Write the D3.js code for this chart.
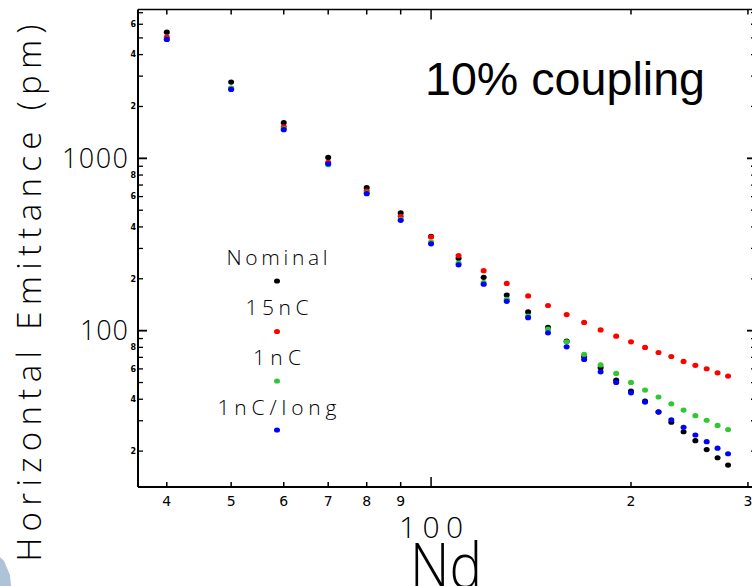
<!DOCTYPE html>
<html>
<head>
<meta charset="utf-8">
<script src="https://cdn.jsdelivr.net/npm/d3@7"></script>
<style>
  html, body { margin: 0; padding: 0; background: #fff; overflow: hidden; }
  svg { display: block; }
  .thin { font-family: "Open Sans", "Lato", "DejaVu Sans", sans-serif; font-weight: 300; }
</style>
</head>
<body>
<svg id="chart" width="752" height="586"></svg>
<script>
// Number of dipoles scanned
const nd = [40, 50, 60, 70, 80, 90, 100, 110, 120, 130, 140, 150, 160, 170, 180,
            190, 200, 210, 220, 230, 240, 250, 260, 270, 280];

// Horizontal emittance (pm) for each configuration
const nominal = [5400, 2770, 1610, 1013, 676, 482, 353, 263, 204, 161, 128.5, 104.4, 86.9,
                 70.7, 61.0, 51.6, 44.6, 39.0, 33.7, 29.4, 25.9, 23.0, 20.4, 18.3, 16.6];
const q15nC   = [5050, 2546, 1523, 948, 646, 461, 350, 273, 223, 188, 159, 140, 124,
                 111.6, 101, 92.9, 86.1, 79.9, 74.7, 70.8, 66.3, 62.9, 60.1, 56.9, 54.5];
const q1nC    = [4900, 2556, 1483, 919, 631, 443, 327, 247, 190, 152, 121.4, 102, 86.1,
                 72.8, 63.3, 56.5, 50.1, 45.2, 41.2, 37.6, 34.6, 32.1, 30.2, 28.2, 26.7];
const q1nCLong = [4897, 2512, 1467, 929, 624, 437, 319, 241, 186, 148, 119, 97.1, 80.6,
                 68.1, 57.7, 50.1, 43.6, 38.5, 33.8, 30.4, 27.5, 24.8, 22.7, 20.8, 19.3];

const seriesNames = ["Nominal", "15nC", "1nC", "1nC/long"];
const seriesColors = ["#000000", "#ff0000", "#33c633", "#0000ff"];
const seriesValues = [nominal, q15nC, q1nC, q1nCLong];

// Axis ticks
const xMinorTicks = [40, 50, 60, 70, 80, 90, 200, 300];
const xMinorLabels = ["4", "5", "6", "7", "8", "9", "2", "3"];
const xMajorTicks = [100];
const yMajorTicks = [100, 1000];
const yMinorTicks = [20, 30, 40, 50, 60, 70, 80, 90, 200, 300, 400, 500, 600, 700, 800, 900,
                     2000, 3000, 4000, 5000, 6000, 7000];
const yMinorLabelled = [20, 40, 60, 80, 200, 400, 600, 800, 2000, 4000, 6000];

const svg = d3.select("#chart");
const plotL = 138, plotR = 756, plotT = 9.5, plotB = 487;

const x = d3.scaleLog().domain([36.2, 308.5]).range([plotL, plotR]);
const y = d3.scaleLog().domain([12.38, 7308]).range([plotB, plotT]);

// Corner decoration
svg.append("path")
  .attr("d", "M0,557 L4,561 L10,575 L11,586 L0,586 Z")
  .attr("fill", "#aec2d8");

// Frame
const frame = svg.append("g").attr("stroke", "#000").attr("fill", "none");
frame.append("line").attr("x1", plotL).attr("x2", plotL).attr("y1", plotT).attr("y2", plotB).attr("stroke-width", 2);
frame.append("line").attr("x1", plotL).attr("x2", plotR).attr("y1", plotB).attr("y2", plotB).attr("stroke-width", 2);
frame.append("line").attr("x1", plotL).attr("x2", plotR).attr("y1", plotT).attr("y2", plotT).attr("stroke-width", 1.6);
frame.append("line").attr("x1", plotR).attr("x2", plotR).attr("y1", plotT).attr("y2", plotB).attr("stroke-width", 1.6);

// X ticks (bottom and top)
const xt = svg.append("g").attr("stroke", "#000").attr("stroke-width", 1.5);
xMinorTicks.forEach(v => {
  xt.append("line").attr("x1", x(v)).attr("x2", x(v)).attr("y1", plotB).attr("y2", plotB - 5);
  xt.append("line").attr("x1", x(v)).attr("x2", x(v)).attr("y1", plotT).attr("y2", plotT + 5);
});
xMajorTicks.forEach(v => {
  xt.append("line").attr("x1", x(v)).attr("x2", x(v)).attr("y1", plotB).attr("y2", plotB - 10);
  xt.append("line").attr("x1", x(v)).attr("x2", x(v)).attr("y1", plotT).attr("y2", plotT + 10);
});

// Y ticks (left and right)
const yt = svg.append("g").attr("stroke", "#000").attr("stroke-width", 1.3);
yMinorTicks.forEach(v => {
  yt.append("line").attr("x1", plotL).attr("x2", plotL + 5).attr("y1", y(v)).attr("y2", y(v));
  yt.append("line").attr("x1", plotR).attr("x2", plotR - 5).attr("y1", y(v)).attr("y2", y(v));
});
yMajorTicks.forEach(v => {
  yt.append("line").attr("x1", plotL).attr("x2", plotL + 9).attr("y1", y(v)).attr("y2", y(v)).attr("stroke-width", 1.8);
  yt.append("line").attr("x1", plotR).attr("x2", plotR - 9).attr("y1", y(v)).attr("y2", y(v)).attr("stroke-width", 1.8);
});

// X tick labels
svg.append("g").selectAll("text").data(xMinorTicks).join("text")
  .attr("x", d => x(d)).attr("y", 506)
  .attr("text-anchor", "middle")
  .attr("font-family", "DejaVu Sans, sans-serif").attr("font-size", 14)
  .text((d, i) => xMinorLabels[i]);
svg.append("g").selectAll("text").data(xMajorTicks).join("text")
  .attr("class", "thin")
  .attr("x", d => x(d)).attr("y", 538)
  .attr("text-anchor", "middle").attr("font-size", 30)
  .attr("textLength", 64).attr("lengthAdjust", "spacing")
  .text(d => d3.format("d")(d));

// Y tick labels
svg.append("g").selectAll("text").data(yMinorLabelled).join("text")
  .attr("x", 136).attr("y", d => y(d)).attr("dy", "0.35em")
  .attr("text-anchor", "end")
  .attr("font-family", "DejaVu Sans, sans-serif").attr("font-weight", "bold").attr("font-size", 8)
  .text(d => String(d).charAt(0));
svg.append("g").selectAll("text").data(yMajorTicks).join("text")
  .attr("class", "thin")
  .attr("x", 128).attr("y", d => y(d)).attr("dy", "0.36em")
  .attr("text-anchor", "end").attr("font-size", 27)
  .attr("textLength", d => d === 1000 ? 66 : 48).attr("lengthAdjust", "spacing")
  .text(d => d3.format("d")(d));

// Axis titles
svg.append("text").attr("class", "thin")
  .attr("x", 446).attr("y", 588)
  .attr("text-anchor", "middle").attr("font-size", 62)
  .attr("textLength", 72).attr("lengthAdjust", "spacingAndGlyphs")
  .text("Nd");
svg.append("text").attr("class", "thin")
  .attr("transform", "translate(41,293) rotate(-90)")
  .attr("text-anchor", "middle").attr("font-size", 33)
  .attr("textLength", 537).attr("lengthAdjust", "spacing")
  .text("Horizontal Emittance (pm)");

// Annotation
svg.append("text")
  .attr("x", 425).attr("y", 95)
  .attr("font-family", "Liberation Sans, Arial, sans-serif").attr("font-size", 46)
  .attr("textLength", 280).attr("lengthAdjust", "spacingAndGlyphs")
  .text("10% coupling");

// Data points
seriesValues.forEach((vals, si) => {
  svg.append("g").selectAll("ellipse").data(nd).join("ellipse")
    .attr("cx", d => x(d))
    .attr("cy", (d, i) => y(vals[i]))
    .attr("rx", 3).attr("ry", 2.6)
    .attr("fill", seriesColors[si]);
});

// Legend
const legendX = 277;
const legendTextY = [265, 315, 365, 415];
const legendDotY = [281, 331.5, 381, 430];
const legendWidths = [101, 63, 48, 119];
const legend = svg.append("g");
seriesNames.forEach((name, i) => {
  legend.append("text").attr("class", "thin")
    .attr("x", legendX).attr("y", legendTextY[i])
    .attr("text-anchor", "middle").attr("font-size", 21)
    .attr("textLength", legendWidths[i]).attr("lengthAdjust", "spacing")
    .text(name);
  legend.append("ellipse")
    .attr("cx", legendX).attr("cy", legendDotY[i])
    .attr("rx", 3).attr("ry", 2.6)
    .attr("fill", seriesColors[i]);
});
</script>
</body>
</html>
